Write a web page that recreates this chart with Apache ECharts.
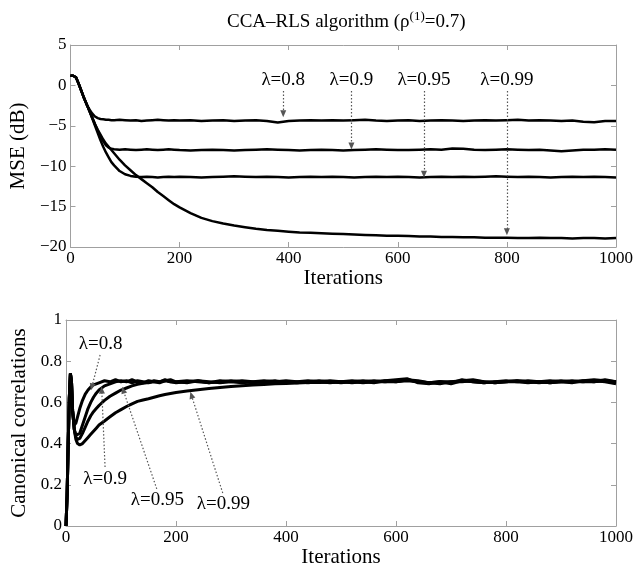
<!DOCTYPE html>
<html>
<head>
<meta charset="utf-8">
<script src="https://cdn.jsdelivr.net/npm/echarts@6/dist/echarts.min.js"></script>
<style>
  html, body { margin: 0; padding: 0; background: #fff; }
  #chart { width: 636px; height: 571px; }
</style>
</head>
<body>
<div id="chart"></div>
<script>
// iterations sampled for the MSE panel
const itersTop = [0, 5, 10, 15, 20, 25, 30, 35, 40, 45, 50, 55, 60, 65, 70, 75, 80,
    90, 100, 110, 120, 130, 140, 150, 160, 170, 180, 190, 200,
    220, 240, 260, 280, 300, 320, 340, 360, 380, 400, 420, 440, 460, 480, 500,
    520, 540, 560, 580, 600, 620, 640, 660, 680, 700, 720, 740, 760, 780, 800,
    820, 840, 860, 880, 900, 920, 940, 960, 980, 1000];

const mse08 = [1.2, 1.2, 1.0, 0.2, -0.7, -1.6, -2.4, -3.0, -3.5, -3.85, -4.05, -4.15, -4.2, -4.25, -4.25, -4.3, -4.3,
    -4.25, -4.3, -4.35, -4.3, -4.4, -4.35, -4.3, -4.25, -4.3, -4.35, -4.3, -4.35,
    -4.3, -4.4, -4.35, -4.3, -4.4, -4.35, -4.3, -4.4, -4.6, -4.4, -4.35, -4.3, -4.35, -4.3, -4.35,
    -4.3, -4.25, -4.35, -4.4, -4.35, -4.3, -4.4, -4.35, -4.3, -4.35, -4.4, -4.35, -4.3, -4.35, -4.3,
    -4.25, -4.35, -4.3, -4.35, -4.4, -4.35, -4.5, -4.55, -4.4, -4.4];

const mse09 = [1.2, 1.2, 1.0, 0.2, -0.7, -1.6, -2.4, -3.2, -4.0, -4.8, -5.6, -6.3, -6.9, -7.4, -7.7, -7.85, -7.9,
    -7.95, -7.9, -7.95, -8.0, -7.95, -7.9, -7.95, -8.0, -7.95, -7.9, -7.95, -8.0,
    -8.05, -8.0, -7.95, -8.0, -8.05, -8.0, -7.95, -7.9, -7.95, -8.0, -8.05, -8.0, -7.95, -8.0, -8.05,
    -8.0, -7.95, -7.9, -7.95, -8.0, -8.0, -7.95, -7.9, -7.95, -7.8, -7.85, -7.95, -8.0, -7.95, -7.9,
    -7.95, -8.0, -7.95, -8.05, -8.15, -8.05, -7.95, -7.95, -7.9, -7.95];

const mse095 = [1.2, 1.2, 1.0, 0.2, -0.7, -1.6, -2.4, -3.2, -4.1, -5.0, -5.9, -6.8, -7.6, -8.3, -8.9, -9.5, -9.9,
    -10.6, -11.0, -11.2, -11.3, -11.35, -11.3, -11.35, -11.4, -11.35, -11.3, -11.35, -11.3,
    -11.35, -11.4, -11.35, -11.3, -11.25, -11.3, -11.35, -11.3, -11.35, -11.4, -11.35, -11.3, -11.35, -11.3, -11.35,
    -11.4, -11.35, -11.3, -11.35, -11.3, -11.35, -11.4, -11.35, -11.3, -11.35, -11.3, -11.35, -11.3, -11.25, -11.3,
    -11.35, -11.3, -11.35, -11.4, -11.35, -11.3, -11.35, -11.3, -11.35, -11.4];

const mse099 = [1.2, 1.2, 1.0, 0.2, -0.7, -1.6, -2.4, -3.2, -4.0, -4.8, -5.5, -6.1, -6.7, -7.2, -7.6, -8.0, -8.4,
    -9.2, -9.9, -10.5, -11.1, -11.6, -12.1, -12.6, -13.2, -13.7, -14.2, -14.7, -15.1,
    -15.8, -16.4, -16.8, -17.1, -17.35, -17.55, -17.75, -17.9, -18.0, -18.1, -18.2, -18.25, -18.3, -18.35, -18.4,
    -18.45, -18.5, -18.55, -18.6, -18.6, -18.65, -18.7, -18.7, -18.75, -18.75, -18.8, -18.8, -18.85, -18.85, -18.85,
    -18.9, -18.9, -18.85, -18.9, -18.9, -18.95, -18.9, -18.9, -18.95, -18.9];

// iterations sampled for the correlation panel
const itersBottom = [0, 2, 4, 6, 8, 10, 12, 15, 18, 21, 25,
    30, 35, 40, 45, 50, 55, 60,
    70, 80, 90, 100, 110, 120, 130, 140, 150, 160, 170, 180, 190, 200,
    220, 240, 260, 280, 300, 320, 340, 360, 380, 400, 420, 440, 460, 480, 500,
    520, 540, 560, 580, 600, 620, 640, 660, 680, 700, 720, 740, 760, 780, 800,
    820, 840, 860, 880, 900, 920, 940, 960, 980, 1000];

const cc08 = [0, 0.15, 0.4, 0.62, 0.74, 0.7, 0.56, 0.49, 0.5, 0.53, 0.57,
    0.61, 0.64, 0.66, 0.675, 0.685, 0.69, 0.695,
    0.705, 0.7, 0.71, 0.7, 0.705, 0.695, 0.705, 0.7, 0.695, 0.705, 0.7, 0.71, 0.7, 0.695,
    0.7, 0.705, 0.695, 0.7, 0.705, 0.7, 0.695, 0.7, 0.705, 0.695, 0.7, 0.705, 0.7, 0.695, 0.7,
    0.705, 0.7, 0.695, 0.705, 0.71, 0.715, 0.695, 0.69, 0.7, 0.695, 0.71, 0.7, 0.695, 0.7, 0.705,
    0.7, 0.695, 0.7, 0.705, 0.7, 0.695, 0.705, 0.71, 0.705, 0.695];

const cc09 = [0, 0.15, 0.4, 0.62, 0.74, 0.7, 0.56, 0.47, 0.44, 0.435, 0.45,
    0.49, 0.53, 0.57, 0.6, 0.625, 0.645, 0.66,
    0.68, 0.69, 0.7, 0.705, 0.7, 0.71, 0.7, 0.695, 0.705, 0.7, 0.695, 0.705, 0.71, 0.7,
    0.705, 0.7, 0.695, 0.705, 0.7, 0.695, 0.7, 0.705, 0.7, 0.7, 0.695, 0.7, 0.705, 0.7, 0.695,
    0.7, 0.705, 0.7, 0.7, 0.705, 0.71, 0.7, 0.695, 0.69, 0.7, 0.7, 0.705, 0.7, 0.695, 0.7,
    0.705, 0.7, 0.695, 0.7, 0.705, 0.7, 0.7, 0.705, 0.7, 0.69];

const cc095 = [0, 0.15, 0.4, 0.62, 0.74, 0.7, 0.56, 0.47, 0.43, 0.42, 0.425,
    0.45, 0.48, 0.51, 0.535, 0.555, 0.57, 0.585,
    0.61, 0.63, 0.645, 0.66, 0.67, 0.68, 0.688, 0.693, 0.697, 0.7, 0.7, 0.705, 0.7, 0.7,
    0.695, 0.705, 0.7, 0.695, 0.7, 0.705, 0.7, 0.695, 0.7, 0.705, 0.7, 0.695, 0.7, 0.705, 0.7,
    0.695, 0.7, 0.705, 0.7, 0.7, 0.71, 0.705, 0.695, 0.7, 0.69, 0.705, 0.71, 0.7, 0.695, 0.7,
    0.7, 0.705, 0.7, 0.695, 0.7, 0.7, 0.705, 0.7, 0.71, 0.7];

const cc099 = [0, 0.15, 0.4, 0.62, 0.74, 0.7, 0.56, 0.47, 0.42, 0.4, 0.393,
    0.4, 0.415, 0.43, 0.445, 0.46, 0.475, 0.49,
    0.51, 0.53, 0.55, 0.565, 0.58, 0.593, 0.605, 0.612, 0.618, 0.625, 0.632, 0.638, 0.643, 0.648,
    0.655, 0.661, 0.667, 0.672, 0.677, 0.681, 0.684, 0.687, 0.69, 0.692, 0.694, 0.696, 0.697, 0.698, 0.7,
    0.7, 0.695, 0.7, 0.705, 0.7, 0.705, 0.7, 0.695, 0.7, 0.7, 0.705, 0.7, 0.695, 0.7, 0.7,
    0.705, 0.7, 0.7, 0.695, 0.7, 0.705, 0.7, 0.7, 0.705, 0.7];

// annotation arrows: [label, x start, y start, x end, y end]
const topNotes = [
    ["λ=0.8", 390, -0.7, 390, -3.5],
    ["λ=0.9", 515, -0.7, 515, -7.5],
    ["λ=0.95", 648, -0.7, 648, -11.0],
    ["λ=0.99", 800, -0.7, 800, -18.1]
];
const bottomNotes = [
    ["λ=0.8", 62, 0.83, 47, 0.675],
    ["λ=0.9", 71, 0.286, 65, 0.66],
    ["λ=0.95", 165, 0.18, 104, 0.66],
    ["λ=0.99", 285, 0.16, 228, 0.635]
];

const serif = "Liberation Serif";
const boxColor = "#a0a0a0";

let chart = echarts.init(document.getElementById("chart"));

function pairs(xs, ys) {
    return xs.map((x, i) => [x, ys[i]]);
}

function noteLines(notes) {
    return notes.map(n => [
        { coord: [n[1], n[2]], label: { formatter: n[0] } },
        { coord: [n[3], n[4]] }
    ]);
}

function markLineFor(notes) {
    return {
        silent: true,
        symbol: ["none", "triangle"],
        symbolSize: [6, 7],
        lineStyle: { color: "#555", type: [1.5, 2], width: 1.2 },
        label: {
            show: true,
            position: "start",
            distance: 2,
            fontFamily: serif,
            fontSize: 19,
            color: "#000"
        },
        data: noteLines(notes)
    };
}

function mainX(gridIndex) {
    return {
        type: "value",
        gridIndex: gridIndex,
        min: 0,
        max: 1000,
        interval: 200,
        name: "Iterations",
        nameLocation: "middle",
        nameGap: 18,
        nameTextStyle: { fontFamily: serif, fontSize: 21, color: "#000" },
        axisLine: { onZero: false, lineStyle: { color: boxColor } },
        axisTick: { inside: true, length: 5, lineStyle: { color: boxColor } },
        axisLabel: {
            fontFamily: serif, fontSize: 17, color: "#000", margin: 3,
            formatter: v => String(v)
        },
        splitLine: { show: false }
    };
}

function mainY(gridIndex, min, max, interval, name, gap) {
    return {
        type: "value",
        gridIndex: gridIndex,
        min: min,
        max: max,
        interval: interval,
        name: name,
        nameLocation: "middle",
        nameGap: gap,
        nameTextStyle: { fontFamily: serif, fontSize: 21, color: "#000" },
        axisLine: { show: true, onZero: false, lineStyle: { color: boxColor } },
        axisTick: { show: true, inside: true, length: 5, lineStyle: { color: boxColor } },
        axisLabel: {
            fontFamily: serif, fontSize: 17, color: "#000", margin: 4,
            formatter: v => String(v).replace("-", "−")
        },
        splitLine: { show: false }
    };
}

function sideAxis(gridIndex, pos, min, max, interval) {
    return {
        type: "value",
        gridIndex: gridIndex,
        position: pos,
        min: min,
        max: max,
        interval: interval,
        axisLine: { show: true, onZero: false, lineStyle: { color: boxColor } },
        axisTick: { show: true, inside: true, length: 5, lineStyle: { color: boxColor } },
        axisLabel: { show: false },
        splitLine: { show: false }
    };
}

let option = {
    animation: false,
    backgroundColor: "#fff",
    title: {
        text: "{a|CCA–RLS algorithm (ρ}{s|(1)}{a|=0.7)}",
        left: 222,
        top: 5,
        textStyle: {
            rich: {
                a: { fontFamily: serif, fontSize: 19, fontWeight: "normal", color: "#000", lineHeight: 24 },
                s: { fontFamily: serif, fontSize: 13, fontWeight: "normal", color: "#000", lineHeight: 14, verticalAlign: "top" }
            }
        }
    },
    grid: [
        { left: 66, right: 19, top: 45, height: 202 },
        { left: 66, right: 19, top: 320, height: 206 }
    ],
    xAxis: [
        mainX(0),
        sideAxis(0, "top", 0, 1000, 200),
        mainX(1),
        sideAxis(1, "top", 0, 1000, 200)
    ],
    yAxis: [
        mainY(0, -20, 5, 5, "MSE (dB)", 30),
        sideAxis(0, "right", -20, 5, 5),
        mainY(1, 0, 1, 0.2, "Canonical correlations", 28),
        sideAxis(1, "right", 0, 1, 0.2)
    ],
    series: []
};

const topSets = [mse08, mse09, mse095, mse099];
const bottomSets = [cc08, cc09, cc095, cc099];

topSets.forEach((vals, i) => {
    let s = {
        type: "line",
        xAxisIndex: 0,
        yAxisIndex: 0,
        data: pairs(itersTop, vals),
        showSymbol: false,
        lineStyle: { color: "#000", width: 2.5 },
        z: 3
    };
    if (i === 0) s.markLine = markLineFor(topNotes);
    option.series.push(s);
});

bottomSets.forEach((vals, i) => {
    let s = {
        type: "line",
        xAxisIndex: 2,
        yAxisIndex: 2,
        data: pairs(itersBottom, vals),
        showSymbol: false,
        lineStyle: { color: "#000", width: 3 },
        z: 3
    };
    if (i === 0) s.markLine = markLineFor(bottomNotes);
    option.series.push(s);
});

chart.setOption(option);
</script>
</body>
</html>
